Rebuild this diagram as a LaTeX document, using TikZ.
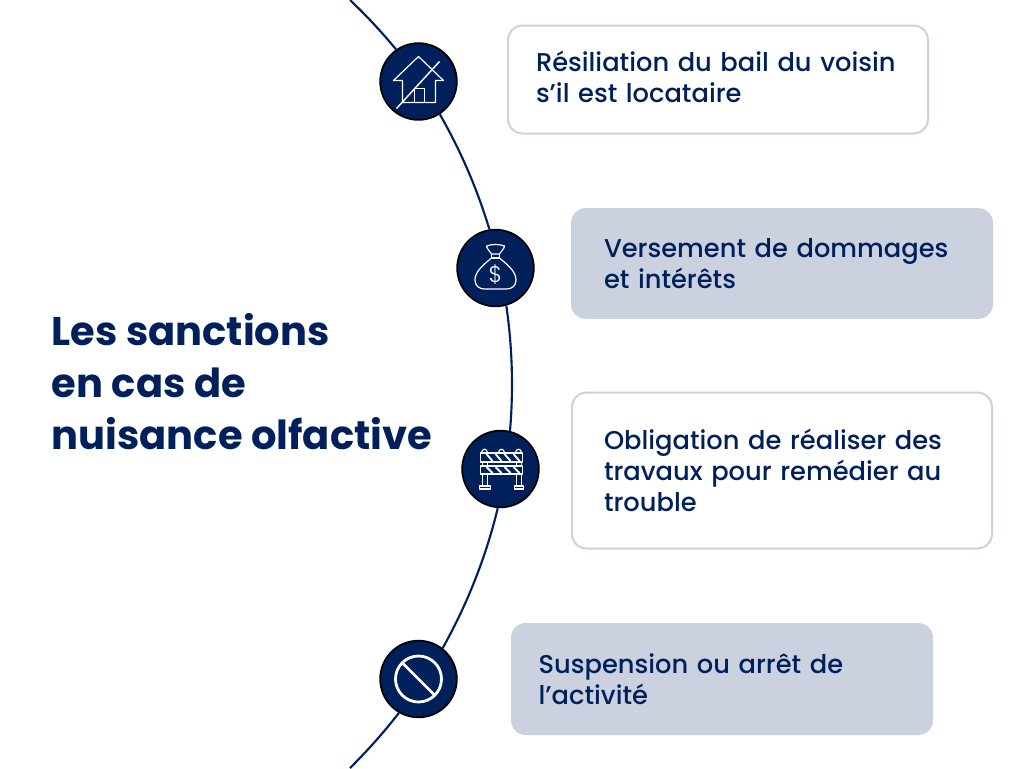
\documentclass[tikz,border=0pt]{standalone}
\usepackage{fontspec}
\usepackage{tikz}
\usetikzlibrary{positioning,calc}
\setmainfont{Poppins Medium}[BoldFont={Poppins Bold}]
\newfontfamily\thinfont{Poppins Light}
\definecolor{mynavy}{RGB}{0, 32, 91}
\definecolor{mygrey}{RGB}{203, 209, 223}
\newcommand*\boxtextsize{\fontsize{19.3}{23.25}\selectfont}
\newcommand*\titlesize{\fontsize{30}{39}\selectfont}
\tikzstyle{sanction}=[rounded corners=11pt,align=left,text=mynavy,font=\boxtextsize,inner sep=0pt]
\tikzstyle{plain}=[sanction,draw=mygrey,fill=white,line width=1.5pt,minimum width=315pt]
\tikzstyle{shaded}=[sanction,fill=mygrey,minimum width=316.5pt]
\tikzstyle{badge}=[circle,draw=black,fill=mynavy,line width=1.3pt,minimum size=57.5pt,inner sep=0pt]
\tikzstyle{link}=[draw=mynavy,line width=1.6pt,looseness=0.85]
\tikzstyle{glyph}=[draw=white,line width=0.9pt,line join=round]

\begin{document}
\begin{tikzpicture}[x=0.75pt,y=-0.75pt]
      \useasboundingbox (0,0) rectangle (1024,768);
      % arc runs behind the badges
      \coordinate (T) at (350,0);
      \coordinate (Z) at (350,768);
      \node (A) [badge] at (418.5,81.5) {};
      \node (B) [badge] at (495.5,268) {};
      \node (C) [badge] at (500.5,469) {};
      \node (D) [badge] at (418.5,679) {};
      \draw[link] (T) to[bend left=3.5] (A.125);
      \draw[link] (A.-57) to[bend left=6.6] (B.99);
      \draw[link] (B.-74) to[bend left=6.6] (C.76);
      \draw[link] (C.-94) to[bend left=7.9] (D.52);
      \draw[link] (D.-120) to[bend left=3.7] (Z);
      % text
      \node (title) [anchor=west,align=left,text=mynavy,font=\titlesize\bfseries,inner sep=0pt] at (51.5,382) {Les sanctions\\en cas de\\nuisance olfactive};
      \node (P) [plain,minimum height=81pt,text width=273pt,text depth=27.5pt] at (718,79.5) {Résiliation du bail du voisin\\s’il est locataire};
      \node (Q) [shaded,minimum height=83pt,text width=267pt] at (782,263.5) {Versement de dommages\\et intérêts};
      \node (R) [plain,minimum height=117pt,text width=267pt] at (782,470.5) {Obligation de réaliser des\\travaux pour remédier au\\trouble};
      \node (S) [shaded,minimum height=84pt,text width=275pt] at (722,679) {Suspension ou arrêt de\\l’activité};
      % house
      \begin{scope}[shift={(A)}]
        \draw[glyph] (-16,21) -- (-16,-1) -- (-25,-1) -- (0,-25) -- (25,-1) -- (17,-1) -- (17,21) -- cycle;
        \draw[glyph] (-4,21) -- (-4,7) -- (6,7) -- (6,21);
        \draw[glyph,line width=1.1pt] (-22,27) -- (21,-20);
      \end{scope}
      % bag
      \begin{scope}[shift={(B)}]
        \draw[glyph] (-4,-14) .. controls (-6,-17) and (-9,-20) .. (-9,-22) .. controls (-4,-24) and (4,-24) .. (9,-22) .. controls (9,-20) and (6,-17) .. (4,-14) -- cycle;
        \draw[glyph] (-4,-14) -- (-4,-10) -- (4,-10) -- (4,-14);
        \draw[glyph] (-4,-10) .. controls (-11,-4) and (-20.5,3) .. (-20.5,12) .. controls (-20.5,18) and (-16,21) .. (-11,21) -- (11,21) .. controls (16,21) and (20.5,18) .. (20.5,12) .. controls (20.5,3) and (11,-4) .. (4,-10);
        \node (dollar) [text=white,font=\thinfont\fontsize{17}{17}\selectfont,inner sep=0pt] at (0,6.5) {\$};
      \end{scope}
      % barrier
      \begin{scope}[shift={(C)}]
        \draw[glyph] (-20,-16) rectangle (22,-7);
        \draw[glyph] (-20,-3) rectangle (22,5);
        \foreach \x in {-14,-5,4,13} {
          \draw[glyph,line width=1.4pt] (\x,-15) -- (\x+6,-8);
          \draw[glyph,line width=1.4pt] (\x,-2) -- (\x+6,4);
        }
        \draw[glyph] (-18,-7) -- (-18,-3) (-13,-7) -- (-13,-3) (16,-7) -- (16,-3) (21,-7) -- (21,-3);
        \draw[glyph] (-18,5) -- (-18,17) (-13,5) -- (-13,17) (16,5) -- (16,17) (21,5) -- (21,17);
        \draw[glyph] (-21,17) rectangle (-10,20);
        \draw[glyph] (14,17) rectangle (23,20);
        \foreach \x in {-16,1,18} {
          \draw[glyph] (\x-3,-16) .. controls (\x-3,-21) and (\x+3,-21) .. (\x+3,-16);
        }
      \end{scope}
      % forbidden sign
      \begin{scope}[shift={(D)}]
        \draw[glyph,line width=2.1pt] (0,0) circle (23);
        \draw[glyph,line width=2.1pt] (-16,-16) -- (16,16);
      \end{scope}
    \end{tikzpicture}
\end{document}
